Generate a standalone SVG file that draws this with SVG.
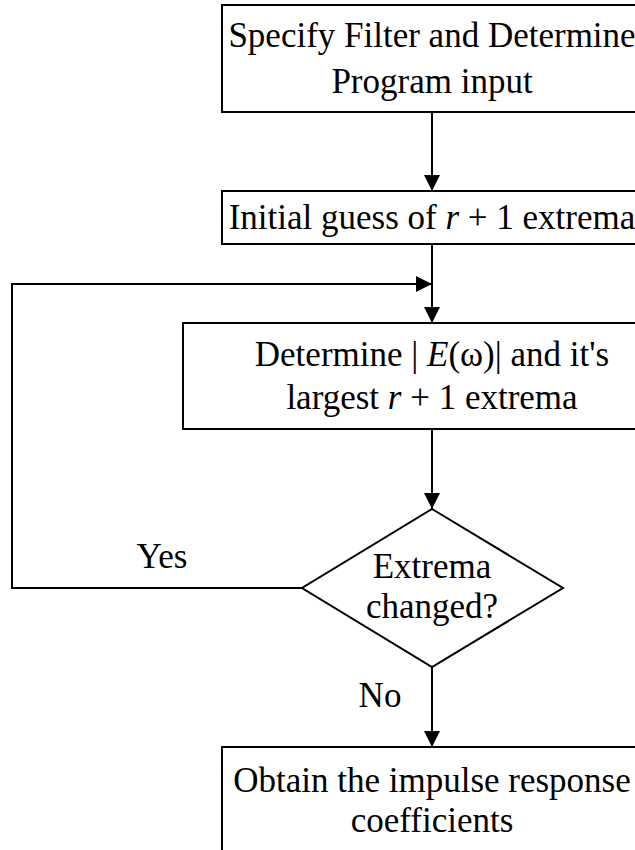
<svg xmlns="http://www.w3.org/2000/svg" width="635" height="850" viewBox="0 0 635 850">
<style>
.box{fill:#fff;stroke:#000;stroke-width:2}
.ln{fill:none;stroke:#000;stroke-width:2}
text{font-family:"Liberation Serif","Times New Roman",serif;font-size:35px;fill:#000}
.c{text-anchor:middle}
</style>
<defs>
<marker id="ah" markerWidth="16" markerHeight="16" viewBox="0 0 16 16" refX="16" refY="8" orient="auto" markerUnits="userSpaceOnUse">
<path d="M0,0 L16,8 L0,16 Z" fill="#000"/>
</marker>
</defs>
<rect width="635" height="850" fill="#fff"/>
<g id="connectors">
<line class="ln" x1="432" y1="112" x2="432" y2="191" marker-end="url(#ah)"/>
<line class="ln" x1="432" y1="244" x2="432" y2="323" marker-end="url(#ah)"/>
<polyline class="ln" points="302,588 12,588 12,284 432,284" marker-end="url(#ah)"/>
<line class="ln" x1="432" y1="429" x2="432" y2="509" marker-end="url(#ah)"/>
<line class="ln" x1="432" y1="667" x2="432" y2="747" marker-end="url(#ah)"/>
<text x="162" y="568" class="c">Yes</text>
<text x="380" y="707" class="c">No</text>
</g>
<g id="n1">
<rect class="box" x="222" y="5" width="420" height="107"/>
<text x="432" y="47" class="c">Specify Filter and Determine</text>
<text x="432" y="93" class="c">Program input</text>
</g>
<g id="n2">
<rect class="box" x="222" y="191" width="420" height="53"/>
<text x="432" y="229" class="c">Initial guess of <tspan font-style="italic">r</tspan> + 1 extrema</text>
</g>
<g id="n3">
<rect class="box" x="183" y="323" width="500" height="106"/>
<text x="432" y="366" class="c">Determine | <tspan font-style="italic">E</tspan>(ω)| and it's</text>
<text x="432" y="409" class="c">largest <tspan font-style="italic">r</tspan> + 1 extrema</text>
</g>
<g id="n4">
<polygon class="box" points="432,509 563,588 432,667 302,588"/>
<text x="432" y="578" class="c">Extrema</text>
<text x="432" y="618" class="c">changed?</text>
</g>
<g id="n5">
<rect class="box" x="222" y="747" width="420" height="120"/>
<text x="432" y="792" class="c">Obtain the impulse response</text>
<text x="432" y="832" class="c">coefficients</text>
</g>
</svg>
